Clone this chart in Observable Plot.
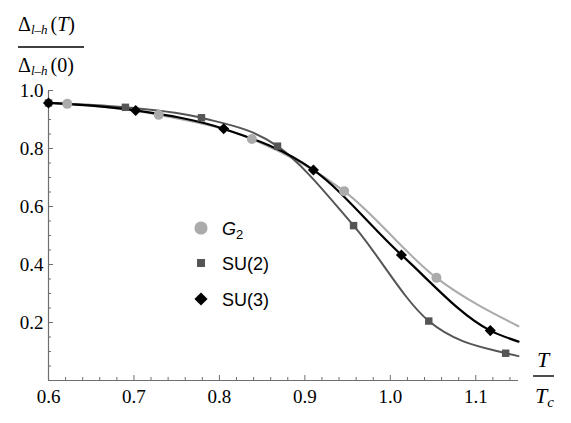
<!DOCTYPE html>
<html>
<head>
<meta charset="utf-8">
<script src="https://cdn.jsdelivr.net/npm/d3@7"></script>
<script src="https://cdn.jsdelivr.net/npm/@observablehq/plot@0.6"></script>
<style>
  html, body { margin: 0; padding: 0; background: #fff; }
  #wrap { position: relative; width: 571px; height: 423px; overflow: hidden; }
  #overlay { position: absolute; left: 0; top: 0; pointer-events: none; }
</style>
</head>
<body>
<div id="wrap"></div>
<script>
// ---- data ----
const seriesNames = ["G2", "SU(2)", "SU(3)"];

const tG2  = [0.622, 0.729, 0.838, 0.946, 1.054];
const vG2  = [0.954, 0.916, 0.833, 0.653, 0.354];

const tSU2 = [0.600, 0.690, 0.779, 0.868, 0.957, 1.045, 1.135];
const vSU2 = [0.957, 0.942, 0.906, 0.808, 0.534, 0.205, 0.094];

const tSU3 = [0.600, 0.702, 0.805, 0.910, 1.013, 1.117];
const vSU3 = [0.957, 0.931, 0.868, 0.726, 0.433, 0.172];

// fitted curves: values where they meet the plot edges
const curveStartG2 = [0.600, 0.958];
const curveEndG2   = [1.150, 0.187];
const curveEndSU2  = [1.150, 0.084];
const curveEndSU3  = [1.150, 0.134];

// ticks
const xMajor = [0.6, 0.7, 0.8, 0.9, 1.0, 1.1];
const xMinor = [0.62, 0.64, 0.66, 0.68, 0.72, 0.74, 0.76, 0.78, 0.82, 0.84, 0.86, 0.88,
                0.92, 0.94, 0.96, 0.98, 1.02, 1.04, 1.06, 1.08, 1.12, 1.14];
const yMajor = [0.2, 0.4, 0.6, 0.8, 1.0];
const yMinor = [0.05, 0.1, 0.15, 0.25, 0.3, 0.35, 0.45, 0.5, 0.55, 0.65, 0.7, 0.75, 0.85, 0.9, 0.95];

// ---- build tables ----
const colors = {"G2": "#ababab", "SU(2)": "#555555", "SU(3)": "#000000"};
const pts = (ts, vs, s) => ts.map((t, i) => ({t, v: vs[i], s}));
const ptsG2 = pts(tG2, vG2, "G2");
const ptsSU2 = pts(tSU2, vSU2, "SU(2)");
const ptsSU3 = pts(tSU3, vSU3, "SU(3)");
const lineG2 = [{t: curveStartG2[0], v: curveStartG2[1]}, ...ptsG2, {t: curveEndG2[0], v: curveEndG2[1]}];
const lineSU2 = [...ptsSU2, {t: curveEndSU2[0], v: curveEndSU2[1]}];
const lineSU3 = [...ptsSU3, {t: curveEndSU3[0], v: curveEndSU3[1]}];

const axisColor = "#6e6e6e";

const chart = Plot.plot({
  width: 571,
  height: 423,
  marginLeft: 48,
  marginRight: 53,
  marginTop: 90,
  marginBottom: 43,
  style: {fontFamily: "'Liberation Serif', serif", fontSize: "19px", color: "#000", background: "#fff", overflow: "visible"},
  x: {domain: [0.6, 1.15], label: null},
  y: {domain: [0, 1.0], label: null},
  marks: [
    Plot.ruleY([0], {stroke: axisColor, strokeWidth: 1.2}),
    Plot.ruleX([0.6], {stroke: axisColor, strokeWidth: 1.2}),
    Plot.axisX(xMajor, {tickSize: -5, text: null, label: null, stroke: axisColor}),
    Plot.axisX(xMinor, {tickSize: -3, text: null, label: null, stroke: axisColor}),
    Plot.axisY(yMajor, {tickSize: -5, text: null, label: null, stroke: axisColor}),
    Plot.axisY(yMinor, {tickSize: -3, text: null, label: null, stroke: axisColor}),
    Plot.axisX(xMajor, {tickSize: 0, tickPadding: 9, label: null, tickFormat: d3.format(".1f")}),
    Plot.axisY(yMajor, {tickSize: 0, tickPadding: 5, label: null, tickFormat: d3.format(".1f")}),
    Plot.line(lineG2, {x: "t", y: "v", stroke: colors["G2"], strokeWidth: 2, curve: "monotone-x"}),
    Plot.line(lineSU2, {x: "t", y: "v", stroke: colors["SU(2)"], strokeWidth: 2, curve: "monotone-x"}),
    Plot.line(lineSU3, {x: "t", y: "v", stroke: colors["SU(3)"], strokeWidth: 2.2, curve: "monotone-x"}),
    Plot.dot(ptsG2, {x: "t", y: "v", symbol: "circle", r: 5, fill: colors["G2"], stroke: "none"}),
    Plot.dot(ptsSU2, {x: "t", y: "v", symbol: "square", r: 4.2, fill: colors["SU(2)"], stroke: "none"}),
    Plot.dot(ptsSU3, {x: "t", y: "v", symbol: "diamond2", r: 5, fill: colors["SU(3)"], stroke: "none"})
  ]
});

const wrap = document.getElementById("wrap");
wrap.appendChild(chart);

// ---- overlay: axis titles and legend ----
const svg = d3.select(wrap).append("svg")
  .attr("id", "overlay").attr("width", 571).attr("height", 423);

const serif = "'Liberation Serif', 'DejaVu Serif', serif";
const sans = "'Liberation Sans', Arial, sans-serif";

function delta(y, arg, italicArg) {
  const t = svg.append("text").attr("x", 18).attr("y", y)
    .attr("font-family", serif).attr("font-size", 20).attr("fill", "#000");
  t.append("tspan").text("Δ");
  t.append("tspan").attr("font-size", 13).attr("font-style", "italic").attr("dy", 3).text("l–h");
  t.append("tspan").attr("dy", -3).attr("dx", 3).text("(");
  const a = t.append("tspan").text(arg);
  if (italicArg) a.attr("font-style", "italic");
  t.append("tspan").text(")");
}
delta(31, "T", true);
svg.append("line").attr("x1", 18).attr("x2", 84).attr("y1", 47).attr("y2", 47)
  .attr("stroke", "#000").attr("stroke-width", 1.4);
delta(72, "0", false);

// T / Tc
svg.append("text").attr("x", 543).attr("y", 367).attr("text-anchor", "middle")
  .attr("font-family", serif).attr("font-size", 22).attr("font-style", "italic").text("T");
svg.append("line").attr("x1", 533).attr("x2", 554).attr("y1", 376).attr("y2", 376)
  .attr("stroke", "#000").attr("stroke-width", 1.4);
const tc = svg.append("text").attr("x", 535).attr("y", 403)
  .attr("font-family", serif).attr("font-size", 22).attr("font-style", "italic");
tc.append("tspan").text("T");
tc.append("tspan").attr("font-size", 15).attr("dy", 4).text("c");

// legend
const legY = [228, 263, 299];
const legSym = [d3.symbolCircle, d3.symbolSquare, d3.symbolDiamond2];
const legSize = [135, 64, 110];
seriesNames.forEach((name, i) => {
  svg.append("path")
    .attr("d", d3.symbol(legSym[i], legSize[i])())
    .attr("transform", `translate(201,${legY[i]})`)
    .attr("fill", colors[name]);
  const t = svg.append("text").attr("x", 222).attr("y", legY[i] + 7)
    .attr("font-family", sans).attr("font-size", 18).attr("fill", "#000");
  if (name === "G2") {
    t.append("tspan").attr("font-style", "italic").text("G");
    t.append("tspan").attr("font-size", 13).attr("dy", 4).text("2");
  } else {
    t.text(name);
  }
});
</script>
</body>
</html>
